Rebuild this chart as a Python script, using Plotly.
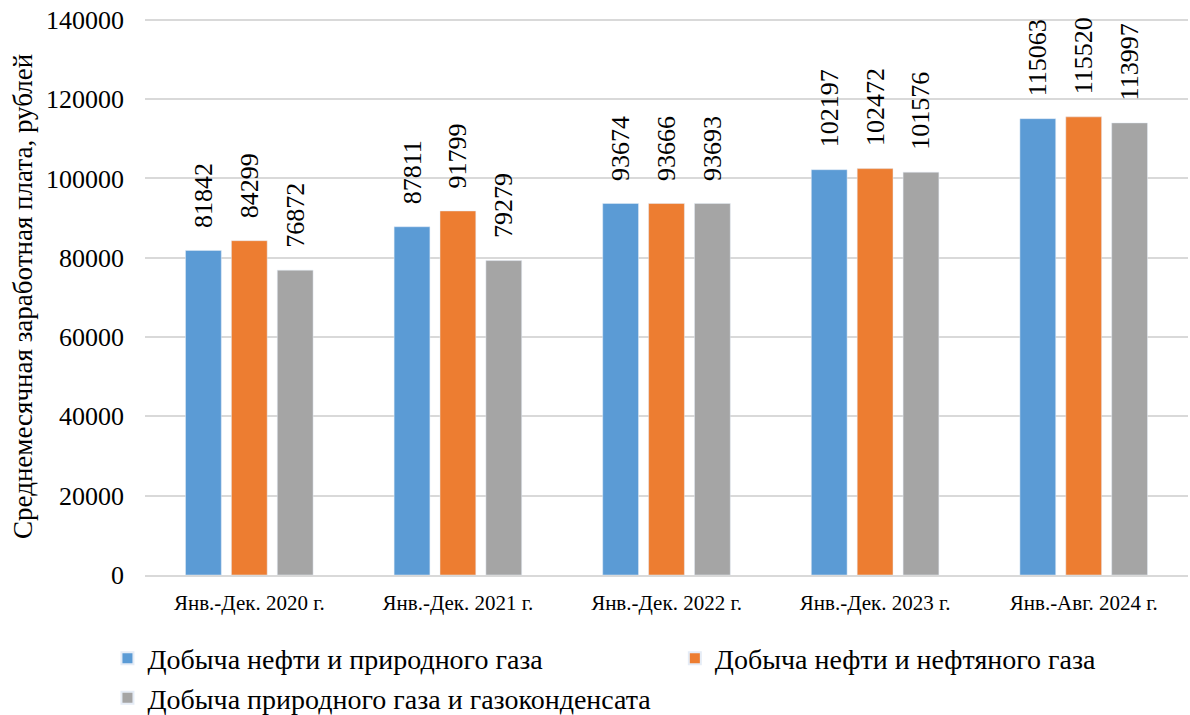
import plotly.graph_objects as go

categories = ["Янв.-Дек. 2020 г.", "Янв.-Дек. 2021 г.", "Янв.-Дек. 2022 г.",
              "Янв.-Дек. 2023 г.", "Янв.-Авг. 2024 г."]
series_names = ["Добыча нефти и природного газа",
                "Добыча нефти и нефтяного газа",
                "Добыча природного газа и газоконденсата"]
oil_gas = [81842, 87811, 93674, 102197, 115063]
oil_assoc = [84299, 91799, 93666, 102472, 115520]
gas_cond = [76872, 79279, 93693, 101576, 113997]
colors = ["#5b9bd5", "#ed7d31", "#a5a5a5"]
y_ticks = [0, 20000, 40000, 60000, 80000, 100000, 120000, 140000]
y_title = "Среднемесячная заработная плата, рублей"

FONT = "Liberation Serif, Times New Roman, serif"
legends = ["legend", "legend2", "legend"]
fig = go.Figure()
for i, (name, vals, col, lg) in enumerate(zip(series_names, [oil_gas, oil_assoc, gas_cond], colors, legends)):
    fig.add_trace(go.Bar(
        x=categories, y=vals, name=name, marker_color=col, legend=lg, legendgroup=f"g{i}",
        text=["\u00a0\u00a0\u00a0" + str(v) for v in vals], textposition="outside", textangle=-90,
        constraintext="none", cliponaxis=False,
        textfont=dict(family=FONT, size=26, color="black"),
        outsidetextfont=dict(family=FONT, size=26, color="black"),
    ))

leg_common = dict(orientation="v", yanchor="top", font=dict(family=FONT, size=28, color="black"),
                  itemsizing="constant", traceorder="normal", tracegroupgap=4,
                  bgcolor="rgba(0,0,0,0)")
fig.update_layout(
    width=1190, height=715,
    margin=dict(l=145, r=2, t=17, b=140, autoexpand=False),
    plot_bgcolor="white", paper_bgcolor="white",
    barmode="group", bargap=0.34, bargroupgap=0.22,
    font=dict(family=FONT, color="black"),
    showlegend=True,
    legend=dict(x=-0.036, xanchor="left", y=-0.105, **leg_common),
    legend2=dict(x=0.508, xanchor="left", y=-0.105, **leg_common),
    xaxis=dict(showline=True, linecolor="#d9d9d9", linewidth=1.5, ticks="", automargin=False,
               tickfont=dict(family=FONT, size=21, color="black"), ticklabelstandoff=8),
    yaxis=dict(range=[0, 140700], tickvals=y_ticks, tickformat="d", showgrid=True,
               gridcolor="#d9d9d9", gridwidth=1.5, zeroline=False, showline=False,
               automargin=False, ticklabeloverflow="allow",
               tickfont=dict(family=FONT, size=26, color="black"), ticklabelstandoff=20),
    annotations=[dict(text=y_title, textangle=-90, xref="paper", yref="paper",
                      x=-0.117, y=0.5, xanchor="center", yanchor="middle", showarrow=False,
                      font=dict(family=FONT, size=27, color="black"))],
)
fig.write_html("out.html", config={"displayModeBar": False},
               post_script="document.body.style.margin='0';")
